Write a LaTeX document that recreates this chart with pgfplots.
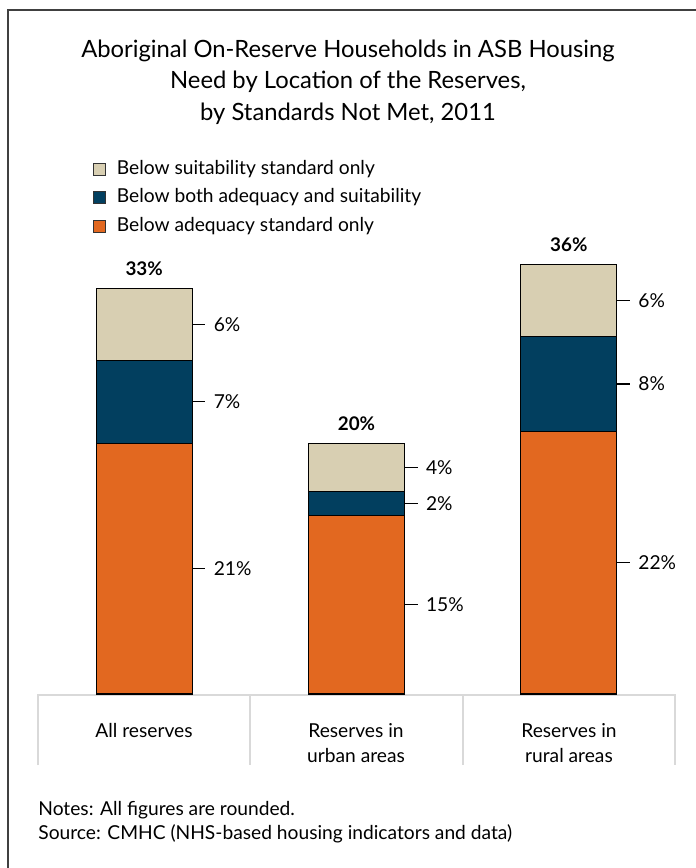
\documentclass[border=0pt]{standalone}
\usepackage{fontspec}
\setmainfont{Lato}
\usepackage{pgfplots}
\pgfplotsset{compat=1.18}
\definecolor{cOrange}{RGB}{226,104,32}
\definecolor{cNavy}{RGB}{2,63,95}
\definecolor{cBeige}{RGB}{216,207,178}
\definecolor{cGrid}{RGB}{217,217,217}
\tikzset{lbl/.style={font=\fontsize{9.6}{11.5}\selectfont, inner sep=0pt},
  tot/.style={font=\fontsize{9.4}{11}\selectfont\bfseries, inner sep=0pt, anchor=base, yshift=6.5pt}}
\begin{document}
\begin{tikzpicture}
\begin{scope}[x=0.5pt,y=-0.5pt]
\path[use as bounding box] (0,0) rectangle (696,868);
\draw[black!75, line width=0.8pt] (8,868) -- (8,10) -- (696,10);
\node[align=center, font=\fontsize{11.9}{15.8}\selectfont] at (348,82) {Aboriginal On-Reserve Households in ASB Housing\\Need by Location of the Reserves,\\by Standards Not Met, 2011};
\draw[cGrid, line width=1pt] (38,765) -- (38,695) -- (675,695) -- (675,765);
\draw[cGrid, line width=1pt] (250,695) -- (250,765);
\draw[cGrid, line width=1pt] (463,695) -- (463,765);
\node[lbl, anchor=base] at (144,737) {All reserves};
\node[lbl, anchor=base] at (356,737) {Reserves in};
\node[lbl, anchor=base] at (356,762) {urban areas};
\node[lbl, anchor=base] at (569,737) {Reserves in};
\node[lbl, anchor=base] at (569,762) {rural areas};
\node[lbl, anchor=base west] at (38,815) {Notes: All figures are rounded.};
\node[lbl, anchor=base west] at (38,839) {Source: CMHC (NHS-based housing indicators and data)};
\end{scope}
\begin{axis}[
  at={(19pt,-347pt)}, anchor=south west,
  scale only axis, width=318.5pt, height=238.5pt,
  xmin=0, xmax=3, ymin=0, ymax=40,
  hide axis, clip=false,
  ybar stacked, bar width=48pt,
  legend style={at={(0.0855,1.1237)}, anchor=north west, draw=none, fill=none,
    font=\fontsize{9.6}{11.5}\selectfont, row sep=3.25pt, inner sep=0pt,
    nodes={inner sep=1pt, text height=7pt, text depth=2pt},
    /tikz/every odd column/.append style={column sep=4.5pt}},
  legend cell align=left,
  reverse legend,
  legend image code/.code={\draw[#1, draw=black!80, line width=0.5pt] (0pt,-3pt) rectangle (6pt,3pt);},
]
\addplot[fill=cOrange, draw=black, line width=0.6pt] coordinates {(0.5,21) (1.5,15) (2.5,22)};
\addlegendentry{Below adequacy standard only}
\addplot[fill=cNavy, draw=black, line width=0.6pt] coordinates {(0.5,7) (1.5,2) (2.5,8)};
\addlegendentry{Below both adequacy and suitability}
\addplot[fill=cBeige, draw=black, line width=0.6pt] coordinates {(0.5,6) (1.5,4) (2.5,6)};
\addlegendentry{Below suitability standard only}
\draw[line width=0.6pt] ([xshift=24pt]axis cs:0.5,10.5) -- ++(6.5pt,0) node[lbl, right, xshift=4pt] {21\%};
\draw[line width=0.6pt] ([xshift=24pt]axis cs:0.5,24.5) -- ++(6.5pt,0) node[lbl, right, xshift=4pt] {7\%};
\draw[line width=0.6pt] ([xshift=24pt]axis cs:0.5,31) -- ++(6.5pt,0) node[lbl, right, xshift=4pt] {6\%};
\draw[line width=0.6pt] ([xshift=24pt]axis cs:1.5,7.5) -- ++(6.5pt,0) node[lbl, right, xshift=4pt] {15\%};
\draw[line width=0.6pt] ([xshift=24pt]axis cs:1.5,16) -- ++(6.5pt,0) node[lbl, right, xshift=4pt] {2\%};
\draw[line width=0.6pt] ([xshift=24pt]axis cs:1.5,19) -- ++(6.5pt,0) node[lbl, right, xshift=4pt] {4\%};
\draw[line width=0.6pt] ([xshift=24pt]axis cs:2.5,11) -- ++(6.5pt,0) node[lbl, right, xshift=4pt] {22\%};
\draw[line width=0.6pt] ([xshift=24pt]axis cs:2.5,26) -- ++(6.5pt,0) node[lbl, right, xshift=4pt] {8\%};
\draw[line width=0.6pt] ([xshift=24pt]axis cs:2.5,33) -- ++(6.5pt,0) node[lbl, right, xshift=4pt] {6\%};
\node[tot] at (axis cs:0.5,34) {33\%};
\node[tot] at (axis cs:1.5,21) {20\%};
\node[tot] at (axis cs:2.5,36) {36\%};
\end{axis}
\end{tikzpicture}
\end{document}
